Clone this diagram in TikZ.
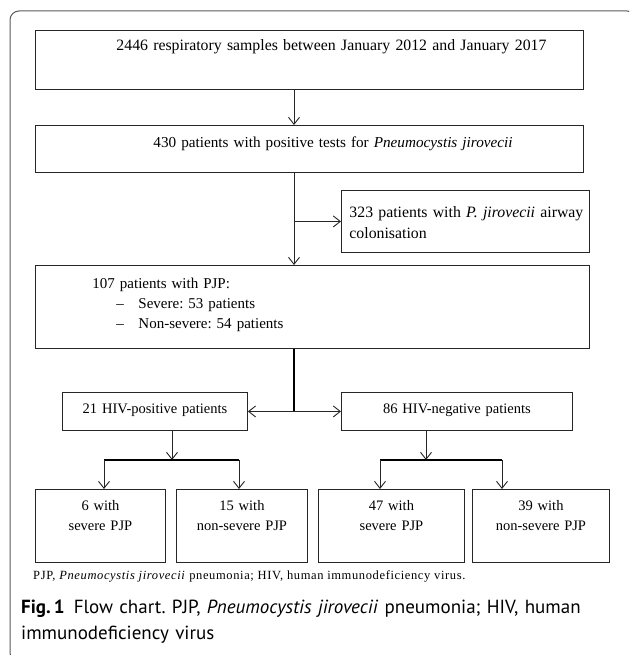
\documentclass[tikz,border=0pt]{standalone}
\usepackage{fontspec}
\setmainfont{Liberation Serif}
\newfontfamily\capfont{PT Sans}
\newfontfamily\notefont[LetterSpace=5]{Liberation Serif}
\usetikzlibrary{arrows.meta}
\frenchspacing

\tikzset{
  flowbox/.style={draw=black!85, line width=0.9pt, anchor=north west,
    inner xsep=6pt, inner ysep=4pt, font=\fontsize{14.5}{20}\selectfont},
  leftbox/.style={flowbox, align=left},
  midbox/.style={flowbox, align=center},
  arr/.style={draw=black!85, line width=0.9pt, -{Straight Barb[length=7pt,width=11pt]}},
  fork/.style={line width=2pt},
}

\begin{document}
\begin{tikzpicture}[x=1pt, y=-1pt]
  \useasboundingbox (0,0) rectangle (629,655);
  \begin{scope}
    \clip (0,0) rectangle (629,655);
    \draw[black!65, line width=1pt, rounded corners=9pt] (10,11) rectangle (636,662);
  \end{scope}

  % top chain
  \node[leftbox, text width=536pt, text height=16pt, text depth=35pt,
        font=\fontsize{15.8}{20}\selectfont] (samples) at (35,30)
    {\hspace*{75pt}2446 respiratory samples between January 2012 and January 2017};
  \node[leftbox, text width=536pt, text height=18pt, text depth=21pt,
        font=\fontsize{15.2}{20}\selectfont] (positives) at (35,125)
    {\hspace*{112pt}430 patients with positive tests for \textit{Pneumocystis jirovecii}};
  \node[leftbox, text width=236pt, text height=23pt, text depth=31pt,
        font=\fontsize{15.8}{21}\selectfont] (colon) at (341,190)
    {\hspace*{2pt}\mbox{323 patients with \textit{P.~jirovecii} airway}\\\hspace*{2pt}colonisation};
  \node[leftbox, text width=542pt, text height=19pt, text depth=56pt,
        font=\fontsize{15}{20}\selectfont] (pjp) at (35,265)
    {\hspace*{51pt}107 patients with PJP:\\
     \hspace*{75pt}\makebox[22pt][l]{\textendash}Severe: 53 patients\\
     \hspace*{75pt}\makebox[22pt][l]{\textendash}Non-severe: 54 patients};

  % HIV split
  \node[midbox, text width=173pt, text height=17pt, text depth=13pt] (hivpos) at (62,392)
    {21 HIV-positive patients};
  \node[midbox, text width=219pt, text height=17pt, text depth=13pt] (hivneg) at (341,392)
    {86 HIV-negative patients};

  % outcome boxes
  \node[midbox, text width=118pt, text height=17pt, text depth=48pt] (sevpos) at (35,489)
    {6 with\\severe PJP};
  \node[midbox, text width=119pt, text height=17pt, text depth=48pt] (nonpos) at (176,489)
    {15 with\\non-severe PJP};
  \node[midbox, text width=134pt, text height=17pt, text depth=48pt] (sevneg) at (318,489)
    {47 with\\severe PJP};
  \node[midbox, text width=125pt, text height=17pt, text depth=48pt] (nonneg) at (472,489)
    {39 with\\non-severe PJP};

  \node[anchor=west, inner sep=0pt, font=\notefont\fontsize{12.5}{14}\selectfont] (note) at (33,576)
    {PJP, \textit{Pneumocystis jirovecii} pneumonia; HIV, human immunodeficiency virus.};
  \node[anchor=north west, inner sep=0pt, align=left, text width=605pt, text height=14pt,
        font=\capfont\fontsize{19}{26}\selectfont] (caption) at (21,599)
    {\textbf{Fig.\,1}\hspace{9pt}Flow chart. PJP, \textit{Pneumocystis jirovecii} pneumonia; HIV, human\\
     immunodeficiency virus};

  \coordinate (axis) at (294,0);
  \coordinate (posfork) at (172,460);
  \coordinate (posL) at (104,460);
  \coordinate (posR) at (239,460);
  \coordinate (negfork) at (426,460);
  \coordinate (negL) at (380,460);
  \coordinate (negR) at (502,460);

  \draw[arr] (samples.south -| axis) -- (positives.north -| axis);
  \draw[arr] (positives.south -| axis) -- (pjp.north -| axis);
  \draw[arr] (axis |- colon.west) -- (colon.west);

  \draw[fork] (pjp.south -| axis) -- (axis |- hivpos.east);
  \draw[arr] (axis |- hivpos.east) -- (hivpos.east);
  \draw[arr] (axis |- hivneg.west) -- (hivneg.west);

  \draw[arr] (hivpos.south -| posfork) -- (posfork);
  \draw[fork] (posL) -- (posR);
  \draw[arr] (posL) -- (sevpos.north -| posL);
  \draw[arr] (posR) -- (nonpos.north -| posR);

  \draw[arr] (hivneg.south -| negfork) -- (negfork);
  \draw[fork] (negL) -- (negR);
  \draw[arr] (negL) -- (sevneg.north -| negL);
  \draw[arr] (negR) -- (nonneg.north -| negR);
\end{tikzpicture}
\end{document}
